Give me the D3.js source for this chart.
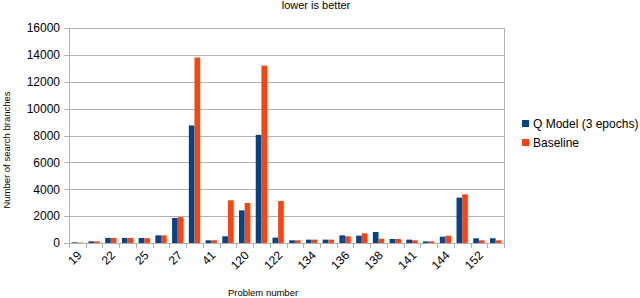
<!DOCTYPE html>
<html>
<head>
<meta charset="utf-8">
<script src="https://cdn.jsdelivr.net/npm/d3@7"></script>
<style>
  body { margin: 0; background: #fff; }
  svg { font-family: "Liberation Sans", Arial, sans-serif; }
</style>
</head>
<body>
<svg id="chart"></svg>
<script>
const width = 640;
const height = 298;

// problem numbers (only every second one is labelled in the chart)
const problems = ["19", "20", "22", "23", "25", "26", "27", "33", "41", "118", "120", "121", "122",
  "133", "134", "135", "136", "137", "138", "140", "141", "143", "144", "150", "152", "155"];
const series = ["Q Model (3 epochs)", "Baseline"];
const qModel = [50, 120, 380, 380, 370, 570, 1860, 8750, 200, 500, 2430, 8050, 400,
  200, 250, 250, 570, 545, 820, 300, 250, 120, 470, 3375, 350, 350];
const baseline = [30, 120, 380, 380, 360, 570, 1930, 13800, 200, 3175, 2980, 13200, 3125,
  200, 250, 250, 500, 720, 320, 300, 200, 120, 545, 3620, 200, 200];
const yTicks = [0, 2000, 4000, 6000, 8000, 10000, 12000, 14000, 16000];
const colors = ["#004586", "#ff420e"];

const margin = { top: 28, right: 136, bottom: 55, left: 69 };
const plotW = width - margin.left - margin.right;
const plotH = height - margin.top - margin.bottom;

const svg = d3.select("#chart").attr("width", width).attr("height", height);
const g = svg.append("g").attr("transform", `translate(${margin.left},${margin.top})`);

const x = d3.scaleBand().domain(problems).range([0, plotW]).padding(0);
const xs = d3.scaleBand().domain(series).range([0, x.bandwidth()]).paddingInner(0).paddingOuter(0.48);
const y = d3.scaleLinear().domain([0, 16000]).range([plotH, 0]);

// gridlines
g.selectAll(".grid")
  .data(yTicks)
  .join("line")
  .attr("x1", -5)
  .attr("x2", plotW)
  .attr("y1", d => Math.round(y(d)) + 0.5)
  .attr("y2", d => Math.round(y(d)) + 0.5)
  .attr("stroke", "#b3b3b3");

// right border
g.append("line")
  .attr("x1", plotW + 0.5).attr("x2", plotW + 0.5)
  .attr("y1", 0).attr("y2", plotH)
  .attr("stroke", "#b3b3b3");

// y axis labels
const yAxis = g.append("g")
  .call(d3.axisLeft(y).tickValues(yTicks).tickFormat(d3.format("d")).tickSize(0).tickPadding(9));
yAxis.select(".domain").remove();
yAxis.selectAll("text").attr("font-size", 12).attr("fill", "#000")
  .attr("font-family", "Liberation Sans, Arial, sans-serif");

// bars
const rows = problems.map((p, i) => ({ p, vals: [qModel[i], baseline[i]] }));
g.selectAll(".grp")
  .data(rows)
  .join("g")
  .attr("transform", d => `translate(${x(d.p)},0)`)
  .selectAll("rect")
  .data(d => d.vals.map((v, k) => ({ s: series[k], v, k })))
  .join("rect")
  .attr("x", d => xs(d.s))
  .attr("width", xs.bandwidth())
  .attr("y", d => y(d.v))
  .attr("height", d => plotH - y(d.v))
  .attr("fill", d => colors[d.k]);

// left axis line and baseline
g.append("line")
  .attr("x1", 0.5).attr("x2", 0.5).attr("y1", 0).attr("y2", plotH)
  .attr("stroke", "#b3b3b3");
g.append("line")
  .attr("x1", 0).attr("x2", plotW)
  .attr("y1", plotH + 0.5).attr("y2", plotH + 0.5)
  .attr("stroke", "#b3b3b3");

// category boundary ticks
g.selectAll(".ctick")
  .data(problems.concat([null]))
  .join("line")
  .attr("x1", (d, i) => Math.round(i * x.step()) + 0.5)
  .attr("x2", (d, i) => Math.round(i * x.step()) + 0.5)
  .attr("y1", plotH)
  .attr("y2", plotH + 5)
  .attr("stroke", "#b3b3b3");

// x labels, every second category
const xAxis = g.append("g")
  .attr("transform", `translate(0,${plotH})`)
  .call(d3.axisBottom(x).tickSize(0).tickFormat((d, i) => (i % 2 === 0 ? d : "")));
xAxis.select(".domain").remove();
xAxis.selectAll("text")
  .attr("font-size", 12)
  .attr("fill", "#000")
  .attr("font-family", "Liberation Sans, Arial, sans-serif")
  .attr("text-anchor", "end")
  .attr("dy", 0)
  .attr("transform", "translate(3,11) rotate(-45)");

// titles
svg.append("text")
  .attr("x", 316).attr("y", 9)
  .attr("text-anchor", "middle")
  .attr("font-size", 11)
  .text("lower is better");

svg.append("text")
  .attr("x", 263).attr("y", 296)
  .attr("text-anchor", "middle")
  .attr("font-size", 9.5)
  .text("Problem number");

svg.append("text")
  .attr("transform", "translate(10,150) rotate(-90)")
  .attr("text-anchor", "middle")
  .attr("font-size", 9.5)
  .text("Number of search branches");

// legend
const legend = svg.append("g").attr("transform", "translate(522,120)");
series.forEach((s, i) => {
  legend.append("rect")
    .attr("x", 0).attr("y", i * 19)
    .attr("width", 7).attr("height", 7)
    .attr("fill", colors[i]);
  legend.append("text")
    .attr("x", 11).attr("y", i * 19 + 8)
    .attr("font-size", 12)
    .text(s);
});
</script>
</body>
</html>
